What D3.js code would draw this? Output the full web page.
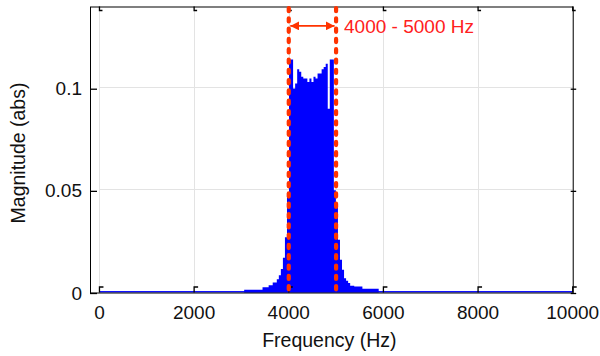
<!DOCTYPE html>
<html>
<head>
<meta charset="utf-8">
<script src="https://cdn.jsdelivr.net/npm/d3@7"></script>
<style>
  body { margin: 0; background: #fff; }
  svg { display: block; font-family: "Liberation Sans", Arial, sans-serif; }
</style>
</head>
<body>
<div id="chart"></div>
<script>
/*** DATA ***/
//FFT bins (Hz per bin) and the band of bins that stand above the floor
var binHz = 43.07;
var firstBin = 71;
var magnitudes = [
  0.0013, 0.0013, 0.0013, 0.0013, 0.0013, 0.0013, 0.0013, 0.0013, 0.0013,
  0.0026, 0.0026, 0.0026, 0.0036, 0.0036, 0.0049, 0.0049, 0.0065, 0.0085,
  0.0115, 0.017, 0.027, 0.049,
  0.114, 0.114, 0.0999, 0.1023, 0.1093, 0.108, 0.1056, 0.1048, 0.1048, 0.103,
  0.1048, 0.103, 0.1056, 0.1048, 0.1072, 0.1072, 0.1093, 0.1104, 0.112, 0.090,
  0.114, 0.114, 0.05,
  0.042, 0.0258, 0.016, 0.0111, 0.0070, 0.0057, 0.0046, 0.0033, 0.0033,
  0.0029, 0.0029, 0.0029, 0.0029,
  0.0018, 0.0018, 0.0018, 0.0018, 0.0018, 0.0018, 0.0018, 0.0018
];
//noise floor over the whole spectrum
var floorSpan = [0, 10000];
var floorMag = 0.0007;

var xTicks = [0, 2000, 4000, 6000, 8000, 10000];
var yTicks = [0, 0.05, 0.1];
var xDomain = [-200, 10000];
var yDomain = [0, 0.14];

//highlighted band
var band = [4000, 5000];
var bandLabel = '4000 - 5000 Hz';
var bandLabelHz = 5168;
var bandArrowMag = 0.1305;

var xLabel = 'Frequency (Hz)';
var yLabel = 'Magnitude (abs)';

/*** CHART ***/
var width = 600, height = 356;
var margin = {top: 6.5, right: 27.3, bottom: 63.5, left: 90};
var red = '#ff3300';

var svg = d3.select('#chart').append('svg')
  .attr('width', width)
  .attr('height', height);

var x = d3.scaleLinear().domain(xDomain).range([margin.left, width - margin.right]);
var y = d3.scaleLinear().domain(yDomain).range([height - margin.bottom, margin.top]);

var x0 = x.range()[0], x1 = x.range()[1];
var y0 = y.range()[0], y1 = y.range()[1];

//grid
svg.append('g').attr('class', 'grid')
  .selectAll('line.vx').data(xTicks).enter().append('line')
  .attr('x1', d => Math.round(x(d)) + 0.5)
  .attr('x2', d => Math.round(x(d)) + 0.5)
  .attr('y1', y1).attr('y2', y0)
  .attr('stroke', '#e3e3e3').attr('stroke-width', 1);

svg.select('.grid')
  .selectAll('line.hy').data(yTicks.filter(d => d > 0)).enter().append('line')
  .attr('x1', x(0)).attr('x2', x1)
  .attr('y1', d => Math.round(y(d)) - 0.5)
  .attr('y2', d => Math.round(y(d)) - 0.5)
  .attr('stroke', '#e3e3e3').attr('stroke-width', 1);

//spectrum
var bins = magnitudes.map(function(m, i) {
  return {f: (firstBin + i) * binHz, m: m};
});
bins.push({f: (firstBin + magnitudes.length) * binHz, m: 0});

svg.append('rect')
  .attr('x', x(floorSpan[0]))
  .attr('width', x(floorSpan[1]) - x(floorSpan[0]))
  .attr('y', y(floorMag))
  .attr('height', y(0) - y(floorMag))
  .attr('fill', '#0000ff');

var area = d3.area()
  .curve(d3.curveStepAfter)
  .x(d => x(d.f))
  .y0(y(0))
  .y1(d => y(d.m));

svg.append('path')
  .datum(bins)
  .attr('d', area)
  .attr('fill', '#0000ff');

//axes box
svg.append('rect')
  .attr('x', x0 + 0.5).attr('y', y1 + 0.5)
  .attr('width', x1 - x0).attr('height', y0 - y1)
  .attr('fill', 'none')
  .attr('stroke', '#000').attr('stroke-width', 1);

//tick marks (matlab style, inside the box)
var ticks = svg.append('g').attr('class', 'ticks')
  .attr('stroke', '#000').attr('stroke-width', 1.3).attr('fill', 'none');

ticks.selectAll('path.xb').data(xTicks).enter().append('path')
  .attr('d', d => 'M' + x(d) + ',' + y0 + 'V' + (y0 - 5.5) + 'h4');
ticks.selectAll('path.xt').data(xTicks).enter().append('path')
  .attr('d', d => 'M' + x(d) + ',' + y1 + 'V' + (y1 + 4) + 'h3');
ticks.selectAll('path.yl').data(yTicks).enter().append('path')
  .attr('d', d => 'M' + x0 + ',' + (y(d) + 1) + 'H' + (x0 + 7));
ticks.selectAll('path.yr').data(yTicks).enter().append('path')
  .attr('d', d => 'M' + (x1 - 2) + ',' + (y(d) + 1) + 'H' + (x1 + 3.5));

//tick labels
svg.append('g')
  .selectAll('text').data(xTicks).enter().append('text')
  .attr('x', d => x(d))
  .attr('y', y0 + 26.5)
  .attr('text-anchor', 'middle')
  .attr('font-size', 19)
  .attr('fill', '#111')
  .text(d => d);

svg.append('g')
  .selectAll('text').data(yTicks).enter().append('text')
  .attr('x', x0 - 8)
  .attr('y', d => y(d) + 7)
  .attr('text-anchor', 'end')
  .attr('font-size', 19)
  .attr('fill', '#111')
  .text(d => d);

//axis titles
svg.append('text')
  .attr('x', (x0 + x1) / 2 - 2)
  .attr('y', y0 + 54.5)
  .attr('text-anchor', 'middle')
  .attr('font-size', 19.5)
  .attr('fill', '#111')
  .text(xLabel);

svg.append('text')
  .attr('transform', 'translate(25,153) rotate(-90)')
  .attr('text-anchor', 'middle')
  .attr('font-size', 19.5)
  .attr('fill', '#111')
  .text(yLabel);

//band markers
svg.append('g')
  .selectAll('line').data(band).enter().append('line')
  .attr('x1', d => x(d)).attr('x2', d => x(d))
  .attr('y1', y1 + 1.5).attr('y2', y0 + 3)
  .attr('stroke', red)
  .attr('stroke-width', 4.2)
  .attr('stroke-linecap', 'round')
  .attr('stroke-dasharray', '3.2 7.1');

//double arrow between the markers
var defs = svg.append('defs');
defs.append('marker')
  .attr('id', 'arrowhead')
  .attr('viewBox', '0 0 10 10')
  .attr('refX', 10).attr('refY', 5)
  .attr('markerUnits', 'userSpaceOnUse')
  .attr('markerWidth', 9).attr('markerHeight', 9)
  .attr('orient', 'auto-start-reverse')
  .append('path')
  .attr('d', 'M0,0L10,5L0,10Z')
  .attr('fill', red);

svg.append('line')
  .attr('x1', x(band[0]) + 1.5).attr('x2', x(band[1]) - 1.5)
  .attr('y1', y(bandArrowMag)).attr('y2', y(bandArrowMag))
  .attr('stroke', red).attr('stroke-width', 1.8)
  .attr('marker-start', 'url(#arrowhead)')
  .attr('marker-end', 'url(#arrowhead)');

svg.append('text')
  .attr('x', x(bandLabelHz))
  .attr('y', y(bandArrowMag) + 6.8)
  .attr('font-size', 19)
  .attr('fill', '#ff2020')
  .text(bandLabel);
</script>
</body>
</html>
